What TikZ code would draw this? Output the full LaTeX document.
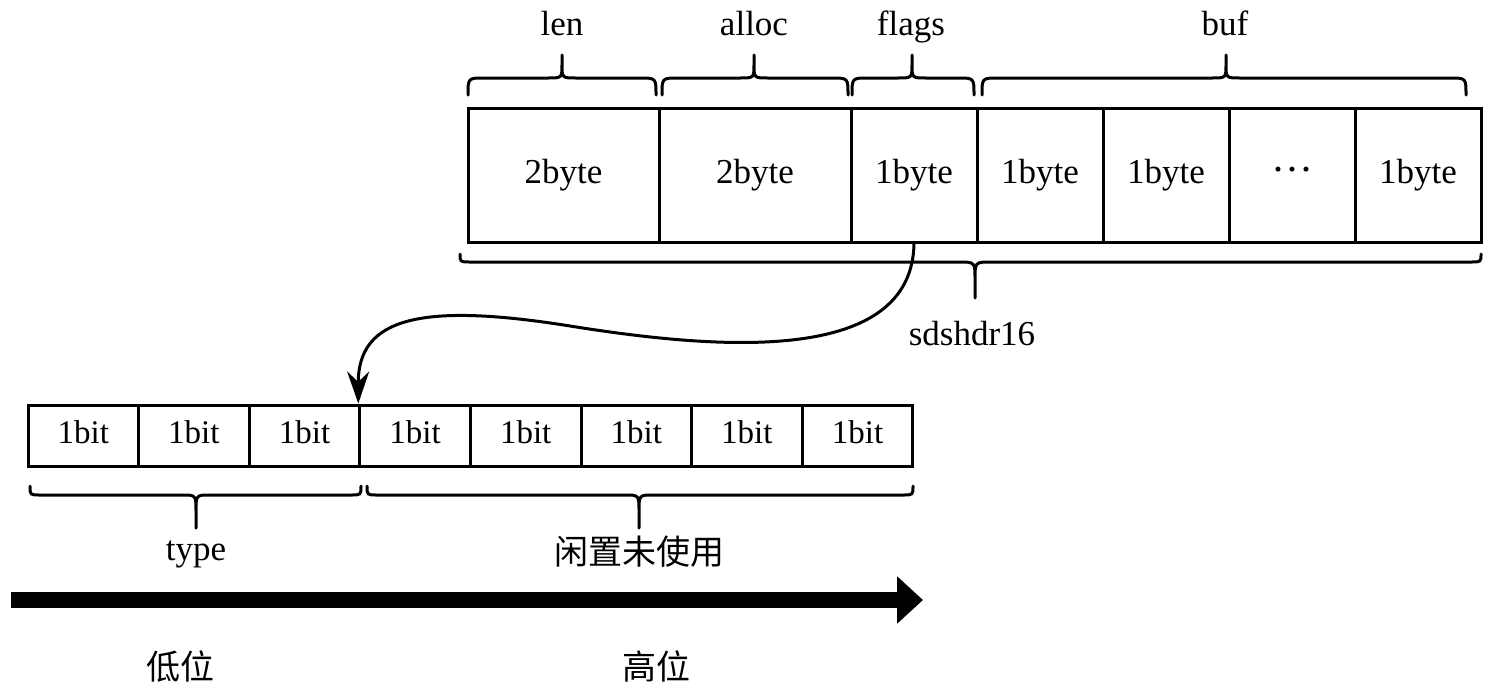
\documentclass[tikz,border=0pt]{standalone}
\usepackage{fontspec}
\setmainfont{Liberation Serif}
\newfontfamily\cjk{Noto Sans CJK SC}
\usetikzlibrary{arrows.meta}
\tikzset{
  cell/.style={draw, line width=3pt, inner sep=0pt, font=\fontsize{35}{40}\selectfont, text height=24pt, text depth=8pt},
  bitcell/.style={draw, line width=3pt, inner sep=0pt, minimum width=110.6pt, minimum height=61pt, font=\fontsize{33}{38}\selectfont, text height=23pt, text depth=7pt},
  bracestyle/.style={line width=3pt, line join=round, line cap=round},
  lbl/.style={inner sep=0pt, anchor=base, font=\fontsize{35}{40}\selectfont},
  cjklbl/.style={inner sep=0pt, anchor=base, font=\cjk\fontsize{34}{38}\selectfont},
  conn/.style={line width=3pt, -{Stealth[length=32pt,width=22pt]}},
  bigarrow/.style={line width=16pt, -{Triangle[length=26pt,width=46pt]}}
}
% #1 x1, #2 x2, #3 xm, #4 yend, #5 ybar, #6 ymid, #7 ytip, #8 r ends, #9 r mid
\newcommand\mybrace[9]{%
  \draw[bracestyle] (#1,#4) .. controls (#1,#5) .. (#1+#8,#5) -- (#3-#9,#5)
    .. controls (#3,#5) .. (#3,#6) -- (#3,#7) -- (#3,#6)
    .. controls (#3,#5) .. (#3+#9,#5) -- (#2-#8,#5) .. controls (#2,#5) .. (#2,#4);}
\begin{document}
\begin{tikzpicture}[x=1pt, y=-1pt]
\useasboundingbox (0,0) rectangle (1497,686);
% top row
\node[cell, minimum width=191pt, minimum height=134pt] (c1) at (563.5,175) {2byte};
\node[cell, minimum width=192pt, minimum height=134pt] (c2) at (755,175) {2byte};
\node[cell, minimum width=126pt, minimum height=134pt] (c3) at (914,175) {1byte};
\node[cell, minimum width=126pt, minimum height=134pt] (c4) at (1040,175) {1byte};
\node[cell, minimum width=126pt, minimum height=134pt] (c5) at (1166,175) {1byte};
\node[cell, minimum width=126pt, minimum height=134pt] (c6) at (1292,175) {{\fontsize{42}{42}\selectfont ···}};
\node[cell, minimum width=126pt, minimum height=134pt] (c7) at (1418,175) {1byte};
% top braces
\mybrace{468}{656}{562}{95}{78}{64}{55}{16}{14}
\mybrace{662}{848}{754}{95}{78}{64}{55}{16}{14}
\mybrace{852}{974}{912}{95}{78}{64}{55}{16}{14}
\mybrace{982}{1466}{1226}{95}{78}{64}{55}{16}{14}
\node[lbl] (llen) at (562,35) {len};
\node[lbl] (lalloc) at (754,35) {alloc};
\node[lbl] (lflags) at (911,35) {flags};
\node[lbl] (lbuf) at (1225,35) {buf};
% bottom brace
\mybrace{460}{1481}{975}{254}{262}{280}{298}{10}{16}
\node[lbl] (lsds) at (972,345) {sdshdr16};
% bit row
\foreach \i in {0,...,7} {
  \node[bitcell] (b\i) at (28+55.3+\i*110.6,435.5) {1bit};
}
\mybrace{30}{361}{196}{486}{495}{512}{528}{10}{14}
\mybrace{367}{913}{639}{486}{495}{512}{528}{10}{14}
\node[lbl] (ltype) at (196,560) {type};
\node[cjklbl] (lidle) at (639,564) {闲置未使用};
% connector
\coordinate (cs) at (c3.south);
\coordinate (ce) at (b3.north west);
\draw[conn] (cs) .. controls (912,365) and (720,350) .. (570,326) .. controls (420,302) and (358,318) .. (ce);
% big arrow
\coordinate (a1) at (11,600);
\coordinate (a2) at (923,600);
\draw[bigarrow] (a1) -- (a2);
\node[cjklbl] (llow) at (180,679) {低位};
\node[cjklbl] (lhigh) at (656,679) {高位};
\end{tikzpicture}
\end{document}
